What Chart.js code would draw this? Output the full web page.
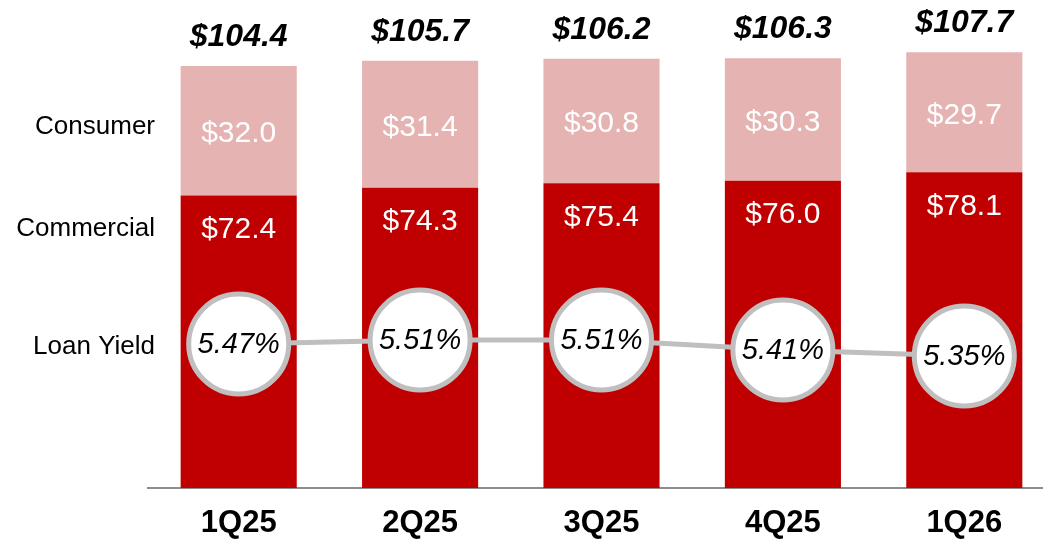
<!DOCTYPE html>
<html>
<head>
<meta charset="utf-8">
<script src="https://cdn.jsdelivr.net/npm/chart.js@4"></script>
<style>
  html, body { margin: 0; padding: 0; background: #fff; overflow: hidden; }
  #wrap { position: relative; width: 1060px; height: 539px; }
</style>
</head>
<body>
<div id="wrap"><canvas id="c"></canvas></div>
<script>
const categories = ['1Q25', '2Q25', '3Q25', '4Q25', '1Q26'];
const commercial = [72.4, 74.3, 75.4, 76.0, 78.1];
const consumer = [32.0, 31.4, 30.8, 30.3, 29.7];
const totals = [104.4, 105.7, 106.2, 106.3, 107.7];
const loanYield = [5.47, 5.51, 5.51, 5.41, 5.35];
const rowLabels = ['Consumer', 'Commercial', 'Loan Yield'];

const FONT = '"Liberation Sans", Arial, sans-serif';

const labelPlugin = {
  id: 'labels',
  afterDatasetsDraw(chart) {
    const ctx = chart.ctx;
    const comMeta = chart.getDatasetMeta(0);
    const conMeta = chart.getDatasetMeta(1);
    const lineMeta = chart.getDatasetMeta(2);
    ctx.save();
    ctx.textAlign = 'center';
    ctx.textBaseline = 'middle';
    comMeta.data.forEach((bar, i) => {
      ctx.fillStyle = '#ffffff';
      ctx.font = '30px ' + FONT;
      ctx.fillText('$' + commercial[i].toFixed(1), bar.x, bar.y + 34);
    });
    conMeta.data.forEach((bar, i) => {
      ctx.fillStyle = '#ffffff';
      ctx.font = '30px ' + FONT;
      ctx.fillText('$' + consumer[i].toFixed(1), bar.x, (bar.y + bar.base) / 2 + 3);
      ctx.fillStyle = '#000000';
      ctx.font = 'italic bold 32px ' + FONT;
      ctx.fillText('$' + totals[i].toFixed(1), bar.x, bar.y - 29);
    });
    lineMeta.data.forEach((pt, i) => {
      ctx.fillStyle = '#000000';
      ctx.font = 'italic 29px ' + FONT;
      ctx.fillText(loanYield[i].toFixed(2) + '%', pt.x, pt.y + 1);
    });
    // row labels on the left
    ctx.textAlign = 'right';
    ctx.fillStyle = '#000000';
    ctx.font = '26px ' + FONT;
    const ys = [127, 229, 347];
    rowLabels.forEach((t, i) => ctx.fillText(t, 155, ys[i]));
    ctx.restore();
  }
};

new Chart(document.getElementById('c'), {
  data: {
    labels: categories,
    datasets: [
      {
        type: 'bar', label: 'Commercial', data: commercial,
        backgroundColor: '#C00000', stack: 's', order: 1,
        categoryPercentage: 1, barPercentage: 0.64, yAxisID: 'y'
      },
      {
        type: 'bar', label: 'Consumer', data: consumer,
        backgroundColor: '#E6B3B3', stack: 's', order: 1,
        categoryPercentage: 1, barPercentage: 0.64, yAxisID: 'y'
      },
      {
        type: 'line', label: 'Loan Yield', data: loanYield,
        yAxisID: 'y1', order: 0,
        borderColor: '#BFBFBF', borderWidth: 5,
        pointRadius: 50, pointHoverRadius: 50,
        pointBackgroundColor: '#ffffff', pointBorderColor: '#BFBFBF', pointBorderWidth: 5,
        tension: 0, clip: false
      }
    ]
  },
  options: {
    responsive: true,
    maintainAspectRatio: false,
    animation: false,
    events: [],
    layout: { autoPadding: false, padding: { left: 148, right: 5, top: 3, bottom: 0 } },
    plugins: { legend: { display: false }, tooltip: { enabled: false } },
    scales: {
      x: {
        stacked: true,
        grid: { display: false, drawTicks: false },
        border: { display: true, color: '#8C8C8C', width: 2 },
        ticks: { color: '#000', font: { family: FONT, size: 31, weight: 'bold' }, padding: 17, maxRotation: 0 },
        afterFit(scale) { scale.height = 51; }
      },
      y: { stacked: true, display: false, min: 0, max: 120 },
      y1: { display: false, min: 4.03, max: 8.88 }
    }
  },
  plugins: [labelPlugin]
});
</script>
</body>
</html>
